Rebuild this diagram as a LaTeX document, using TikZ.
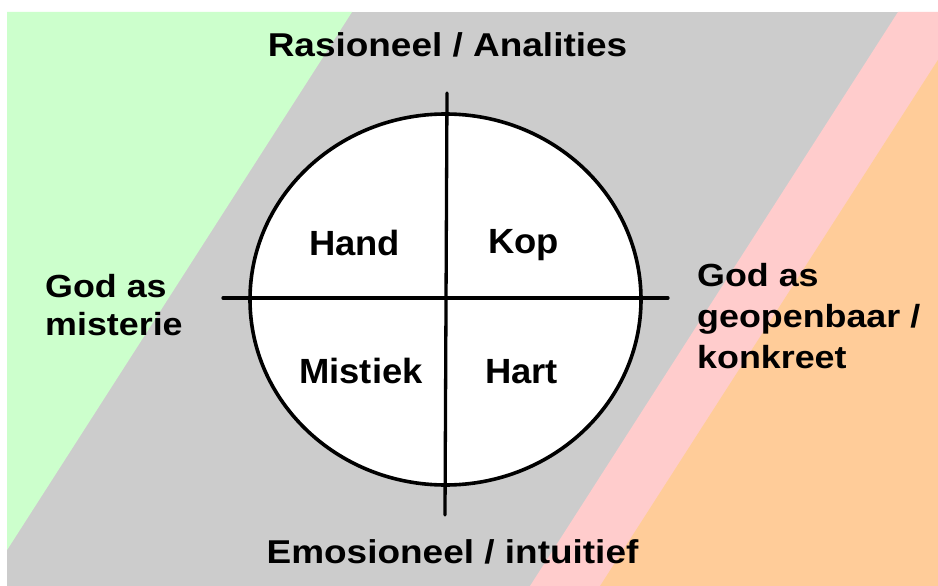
\documentclass[tikz,border=0pt]{standalone}
\usepackage{fontspec}
\setmainfont{Liberation Sans}
\newfontfamily\outerfont[FakeStretch=1.12]{Liberation Sans}
\newfontfamily\innerfont[FakeStretch=1.04]{Liberation Sans}
\usetikzlibrary{shapes.geometric}
\definecolor{greenzone}{RGB}{204,255,204}
\definecolor{grayband}{RGB}{204,204,204}
\definecolor{pinkband}{RGB}{255,204,204}
\definecolor{orangezone}{RGB}{255,204,153}
\begin{document}
\begin{tikzpicture}[x=1pt,y=-1pt,
  axislabel/.style={font=\outerfont\bfseries\fontsize{33}{40}\selectfont, inner sep=0, anchor=base},
  sidelabel/.style={font=\outerfont\bfseries\fontsize{32}{38}\selectfont, align=left, inner sep=0, anchor=base west},
  quad/.style={font=\innerfont\bfseries\fontsize{35}{42}\selectfont, inner sep=0, anchor=base},
  bar/.style={line width=3.3pt, line cap=round},
  wheelshape/.style={draw, ellipse, line width=3.6pt, fill=white, inner sep=0, minimum width=391pt, minimum height=371pt}]
\useasboundingbox (0,0) rectangle (938,586);
\fill[white] (0,0) rectangle (938,586);
\begin{scope}
  \clip (7,12) rectangle (938,586);
  \fill[grayband] (7,12) rectangle (938,586);
  \fill[greenzone] (0,12) -- (352,12) -- (-16,586) -- (0,586) -- cycle;
  \fill[pinkband] (898,12) -- (960,12) -- (960,586) -- (530,586) -- cycle;
  \fill[orangezone] (968.7,12) -- (1000,12) -- (1000,586) -- (600,586) -- cycle;
\end{scope}
\node[wheelshape] (wheel) at (445.5,299.5) {};
\coordinate (vtop) at (447,93);
\coordinate (vbot) at (445,515);
\coordinate (hleft) at (223,298);
\coordinate (hright) at (668,298);
\draw[bar] (vtop) -- (vbot);
\draw[bar] (hleft) -- (hright);
\node[quad] (hand) at (354.5,255) {Hand};
\node[quad] (kop) at (523.5,253) {Kop};
\node[quad] (mistiek) at (361,383) {Mistiek};
\node[quad] (hart) at (521.5,383) {Hart};
\node[axislabel] (rational) at (447.5,57) {Rasioneel / Analities};
\node[axislabel] (emotional) at (452.5,563) {Emosioneel / intuitief};
\node[sidelabel] (mystery) at (45,335) {God as\\misterie};
\node[sidelabel, font=\outerfont\bfseries\fontsize{32}{41}\selectfont] (revealed) at (697,368) {God as\\geopenbaar /\\konkreet};
\end{tikzpicture}
\end{document}
